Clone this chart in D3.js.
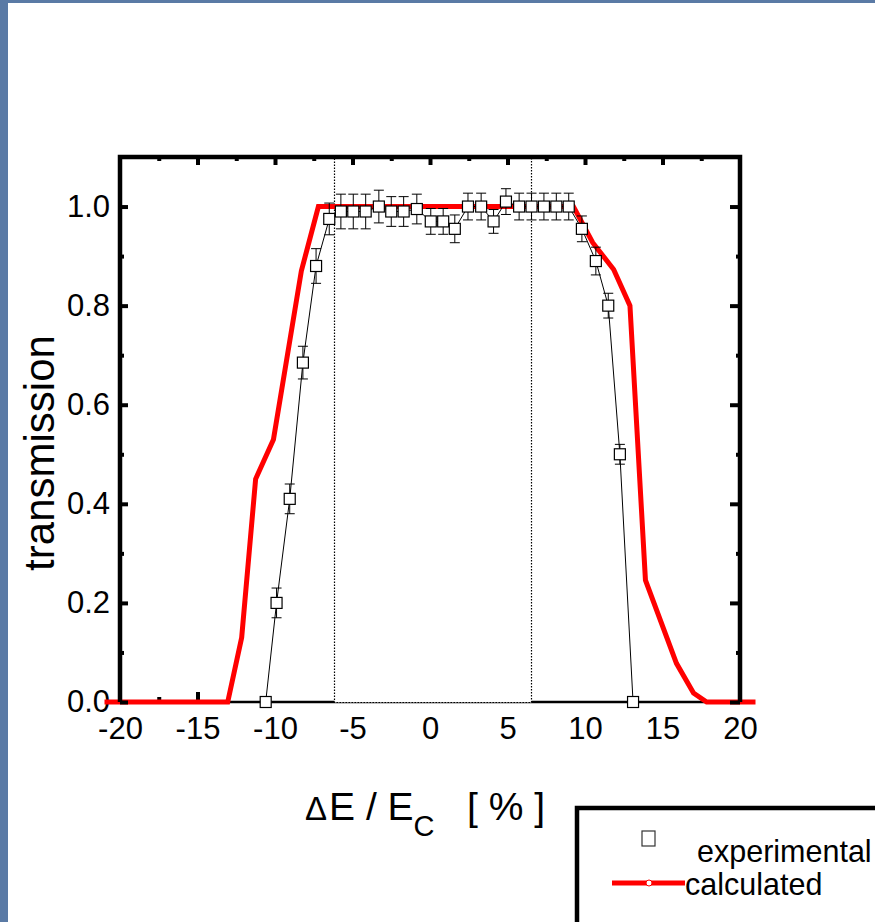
<!DOCTYPE html>
<html lang="en"><head><meta charset="UTF-8">
	<title>transmission</title>
	<script src="https://d3js.org/d3.v7.min.js"></script>
	<style type="text/css">
		body { margin: 0; background: #fff; }
		svg { display: block; }
		text { font-family: "Liberation Sans", Arial, sans-serif; fill: #000; }
	</style>
</head>
<body>
<script type="text/javascript">

	// experimental points (dE/Ec in %, transmission, error)
	var expX = [-10.6, -9.9, -9.05, -8.2, -7.35, -6.5, -5.75, -4.95, -4.15, -3.3,
	            -2.5, -1.7, -0.85, 0.05, 0.85, 1.6, 2.45, 3.3, 4.1, 4.9,
	            5.75, 6.55, 7.35, 8.15, 8.95, 9.8, 10.7, 11.5, 12.25, 13.1];
	var expY = [0, 0.20, 0.41, 0.685, 0.88, 0.975, 0.99, 0.99, 0.99, 1.0,
	            0.99, 0.99, 0.995, 0.97, 0.97, 0.955, 1.0, 1.0, 0.97, 1.01,
	            1.0, 1.0, 1.0, 1.0, 1.0, 0.955, 0.89, 0.80, 0.50, 0];
	var expErr = [0, 0.03, 0.03, 0.033, 0.035, 0.032, 0.035, 0.035, 0.035, 0.033,
	              0.03, 0.03, 0.03, 0.026, 0.026, 0.028, 0.027, 0.027, 0.024, 0.026,
	              0.027, 0.027, 0.027, 0.027, 0.027, 0.026, 0.028, 0.025, 0.02, 0];

	// calculated curve
	var calcX = [-21, -13.05, -12.15, -11.25, -10.1, -8.3, -7.2, 9.25, 10.5, 11.85, 12.9, 13.9, 15.9, 17.0, 17.85, 21];
	var calcY = [0, 0, 0.13, 0.45, 0.53, 0.87, 1.0, 1.0, 0.927, 0.873, 0.80, 0.246, 0.078, 0.018, 0, 0];

	// dotted window
	var windowX = [-6.2, 6.5];

	// ticks
	var xLabels = [-20, -15, -10, -5, 0, 5, 10, 15, 20];
	var xMajor = [-15, -10, -5, 0, 5, 10, 15];
	var xMinor = [-17.5, -12.5, -7.5, -2.5, 2.5, 7.5, 12.5, 17.5];
	var xBottomMajor = [-15];
	var xBottomMinor = [-17.5];
	var yMajor = [0, 0.2, 0.4, 0.6, 0.8, 1.0];
	var yMinor = [0.1, 0.3, 0.5, 0.7, 0.9];

	var w = 875;
	var h = 922;
	var margin = {top: 157, left: 120};
	var width = 620;
	var height = 545;

	var svg = d3.select("body").append("svg")
		.attr("width", w)
		.attr("height", h);

	// blue frame of the slide
	svg.append("rect").attr("x", 0).attr("y", 0).attr("width", 8).attr("height", h).attr("fill", "#5a7aa5");
	svg.append("rect").attr("x", 0).attr("y", 0).attr("width", w).attr("height", 3).attr("fill", "#5a7aa5");

	var g = svg.append("g")
		.attr("transform", "translate(" + margin.left + "," + margin.top + ")");

	var xScale = d3.scaleLinear().domain([-20, 20]).range([0, width]);
	var yScale = d3.scaleLinear().domain([0, 1.1]).range([height, 0]);

	// bottom axis line + its few visible ticks
	g.append("line")
		.attr("x1", 0).attr("x2", width)
		.attr("y1", height).attr("y2", height)
		.attr("stroke", "#000").attr("stroke-width", 2.5);
	[[xBottomMajor, 10], [xBottomMinor, 5]].forEach(function(t) {
		var ax = g.append("g").attr("transform", "translate(0," + height + ")")
			.call(d3.axisBottom(xScale).tickValues(t[0]).tickSize(-t[1]).tickFormat(""));
		ax.select(".domain").remove();
		ax.selectAll("line").attr("stroke-width", 4);
	});

	// dotted window (white inside, covers the bottom line)
	g.append("rect")
		.attr("x", Math.round(xScale(windowX[0])) + 0.5)
		.attr("y", yScale(1.1))
		.attr("width", Math.round(xScale(windowX[1]) - xScale(windowX[0])))
		.attr("height", yScale(0) - yScale(1.1) + 0.5)
		.attr("fill", "#fff")
		.attr("stroke", "#000")
		.attr("stroke-width", 1.2)
		.attr("stroke-dasharray", "1.5,1.5");

	// x tick labels
	var xl = g.append("g").attr("transform", "translate(0," + height + ")")
		.call(d3.axisBottom(xScale).tickValues(xLabels).tickSize(0).tickPadding(15)
			.tickFormat(function(d) { return d < 0 ? "-" + Math.abs(d) : d; }));
	xl.select(".domain").remove();
	xl.selectAll("text").attr("font-size", "31px").style("font-family", "'Liberation Sans', Arial, sans-serif");

	// y tick labels
	var yl = g.append("g")
		.call(d3.axisLeft(yScale).tickValues(yMajor).tickSize(0).tickPadding(10).tickFormat(d3.format(".1f")));
	yl.select(".domain").remove();
	yl.selectAll("text").attr("font-size", "31px").style("font-family", "'Liberation Sans', Arial, sans-serif");

	// calculated curve
	var line = d3.line()
		.x(function(d) { return xScale(d[0]); })
		.y(function(d) { return yScale(d[1]); });

	g.append("path")
		.datum(calcX.map(function(x, i) { return [x, calcY[i]]; }))
		.attr("d", line)
		.attr("fill", "none")
		.attr("stroke", "#ff0000")
		.attr("stroke-width", 5)
		.attr("stroke-linejoin", "miter");

	// experimental
	var exp = expX.map(function(x, i) { return {x: x, y: expY[i], e: expErr[i]}; });

	g.append("path")
		.datum(exp.map(function(d) { return [d.x, d.y]; }))
		.attr("d", line)
		.attr("fill", "none")
		.attr("stroke", "#000")
		.attr("stroke-width", 1);

	var bars = g.selectAll("g.err")
		.data(exp.filter(function(d) { return d.e > 0; }))
		.enter().append("g").attr("class", "err")
		.attr("stroke", "#000").attr("stroke-width", 1);
	bars.append("line")
		.attr("x1", function(d) { return xScale(d.x); })
		.attr("x2", function(d) { return xScale(d.x); })
		.attr("y1", function(d) { return yScale(d.y + d.e); })
		.attr("y2", function(d) { return yScale(d.y - d.e); });
	[1, -1].forEach(function(s) {
		bars.append("line")
			.attr("x1", function(d) { return xScale(d.x) - 5; })
			.attr("x2", function(d) { return xScale(d.x) + 5; })
			.attr("y1", function(d) { return yScale(d.y + s * d.e); })
			.attr("y2", function(d) { return yScale(d.y + s * d.e); });
	});

	g.selectAll("rect.pt")
		.data(exp)
		.enter().append("rect").attr("class", "pt")
		.attr("x", function(d) { return xScale(d.x) - 5.5; })
		.attr("y", function(d) { return yScale(d.y) - 5.5; })
		.attr("width", 11)
		.attr("height", 11)
		.attr("fill", "#fff")
		.attr("stroke", "#000")
		.attr("stroke-width", 1.2);

	// frame: left, top, right (thick) with inward ticks
	function frameAxis(axis, transform, vals, size) {
		var a = g.append("g").attr("transform", transform)
			.call(axis.tickValues(vals).tickSize(-size).tickFormat(""));
		a.select(".domain").remove();
		a.selectAll("line").attr("stroke-width", 4);
	}
	frameAxis(d3.axisLeft(yScale), "translate(0,0)", yMajor, 8);
	frameAxis(d3.axisLeft(yScale), "translate(0,0)", yMinor, 4);
	frameAxis(d3.axisRight(yScale), "translate(" + width + ",0)", yMajor, 10);
	frameAxis(d3.axisRight(yScale), "translate(" + width + ",0)", yMinor, 4);
	frameAxis(d3.axisTop(xScale), "translate(0,0)", xMajor, 8);
	frameAxis(d3.axisTop(xScale), "translate(0,0)", xMinor, 4);

	g.append("path")
		.attr("d", "M0," + height + "V0H" + width + "V" + height)
		.attr("fill", "none")
		.attr("stroke", "#000")
		.attr("stroke-width", 4.5)
		.attr("stroke-linejoin", "miter");

	// axis titles
	svg.append("text")
		.attr("transform", "translate(54,453) rotate(-90)")
		.attr("text-anchor", "middle")
		.attr("font-size", "42px")
		.text("transmission");

	var xt = svg.append("text").attr("x", 305).attr("y", 820).attr("font-size", "39px");
	xt.append("tspan").attr("font-size", "33px").text("\u0394");
	xt.append("tspan").attr("dx", 2).text("E / E");
	xt.append("tspan").attr("font-size", "29px").attr("dx", 0).attr("dy", 16).text("C");
	xt.append("tspan").attr("dy", -16).attr("x", 467).text("[ % ]");

	// legend
	svg.append("rect")
		.attr("x", 577).attr("y", 808)
		.attr("width", 400).attr("height", 200)
		.attr("fill", "#fff")
		.attr("stroke", "#000")
		.attr("stroke-width", 4.5);

	svg.append("rect")
		.attr("x", 642).attr("y", 831)
		.attr("width", 13).attr("height", 15)
		.attr("fill", "#fff")
		.attr("stroke", "#333")
		.attr("stroke-width", 1.2);
	svg.append("text").attr("x", 697).attr("y", 862).attr("font-size", "30.5px").text("experimental");

	svg.append("line")
		.attr("x1", 612).attr("x2", 685)
		.attr("y1", 883).attr("y2", 883)
		.attr("stroke", "#ff0000").attr("stroke-width", 5);
	svg.append("circle")
		.attr("cx", 649).attr("cy", 883).attr("r", 3)
		.attr("fill", "#fff").attr("stroke", "#ff0000").attr("stroke-width", 1);
	svg.append("text").attr("x", 685).attr("y", 895).attr("font-size", "30.5px").text("calculated");

</script>
</body>
</html>
